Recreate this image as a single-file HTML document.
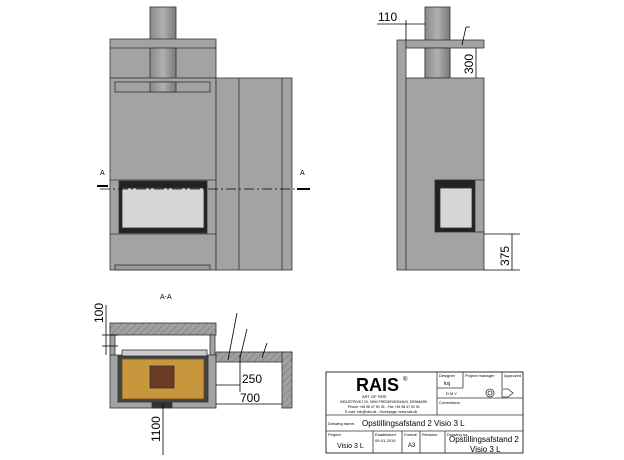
<!DOCTYPE html>
<html><head><style>body{margin:0;background:#fff}svg{display:block}text{font-family:"Liberation Sans",sans-serif}</style></head>
<body>
<svg width="624" height="460" viewBox="0 0 624 460" xmlns="http://www.w3.org/2000/svg">
<defs>
<linearGradient id="cy" x1="0" x2="1"><stop offset="0" stop-color="#8a8a8a"/><stop offset="0.5" stop-color="#b0b0b0"/><stop offset="1" stop-color="#7a7a7a"/></linearGradient>
<pattern id="h" width="5" height="5" patternUnits="userSpaceOnUse" patternTransform="rotate(45)"><rect width="5" height="5" fill="#a0a0a0"/><line x1="0" y1="0" x2="0" y2="5" stroke="#666" stroke-width="0.8"/></pattern>
</defs>
<g stroke="#333" stroke-width="0.8">
<!-- front view -->
<rect x="150" y="7" width="26" height="33" fill="url(#cy)"/>
<rect x="110" y="39" width="106" height="39" fill="#a3a3a3"/>
<line x1="110" y1="48" x2="216" y2="48"/>
<rect x="150" y="48" width="26" height="44" fill="url(#cy)"/>
<rect x="110" y="78" width="106" height="192" fill="#a3a3a3"/>
<rect x="115" y="82" width="95" height="10" fill="none"/>
<rect x="150" y="82" width="26" height="10" fill="url(#cy)"/>
<rect x="216" y="78" width="76" height="192" fill="#a3a3a3"/>
<line x1="239" y1="78" x2="239" y2="270"/><line x1="282" y1="78" x2="282" y2="270"/>
<line x1="110" y1="180" x2="216" y2="180"/><line x1="110" y1="234" x2="216" y2="234"/>
<rect x="119" y="181" width="88" height="52" fill="#222"/>
<rect x="122" y="188" width="82" height="40" fill="#d6d6d6"/>
<rect x="115" y="265" width="95" height="5" fill="#999"/>
<line x1="100" y1="189" x2="310" y2="189" stroke="#000" stroke-dasharray="10,3,2,3"/>
<line x1="97" y1="186" x2="108" y2="186" stroke="#000" stroke-width="2"/><line x1="297" y1="189" x2="310" y2="189" stroke="#000" stroke-width="2"/>
<!-- side view -->
<rect x="425" y="7" width="25" height="71" fill="url(#cy)"/>
<rect x="397" y="40" width="9" height="230" fill="#a3a3a3"/>
<rect x="406" y="40" width="78" height="8" fill="#a3a3a3"/>
<rect x="425" y="48" width="25" height="30" fill="url(#cy)"/>
<rect x="406" y="78" width="78" height="192" fill="#a3a3a3"/>
<rect x="435" y="180" width="40" height="52" fill="#222"/>
<rect x="440" y="188" width="32" height="40" fill="#d6d6d6"/>
<line x1="475" y1="180" x2="484" y2="180"/><line x1="475" y1="232" x2="484" y2="232"/>
<!-- dims side -->
<line x1="377" y1="24" x2="425" y2="24" stroke="#000"/>
<line x1="406" y1="20" x2="406" y2="40" stroke="#000"/>
<line x1="476" y1="48" x2="476" y2="78" stroke="#000"/>
<line x1="484" y1="234" x2="520" y2="234" stroke="#000"/><line x1="484" y1="270" x2="520" y2="270" stroke="#000"/>
<line x1="512" y1="234" x2="512" y2="270" stroke="#000"/>
<line x1="462" y1="45" x2="466" y2="27" stroke="#000"/><line x1="466" y1="27" x2="470" y2="27" stroke="#000"/>
<!-- section -->
<rect x="110" y="323" width="106" height="12" fill="url(#h)"/>
<rect x="110" y="335" width="5" height="20" fill="#a3a3a3"/><rect x="210" y="335" width="5" height="20" fill="#a3a3a3"/>
<rect x="110" y="355" width="106" height="53" fill="#a3a3a3"/>
<rect x="118" y="356" width="90" height="46" fill="#444"/>
<rect x="122" y="359" width="82" height="40" fill="#c8963c" stroke="#6a4a1a"/>
<rect x="150" y="366" width="24" height="22" fill="#6b3a22"/>
<rect x="122" y="350" width="85" height="6" fill="#ccc"/>
<rect x="152" y="402" width="20" height="6" fill="#333"/>
<rect x="216" y="352" width="76" height="10" fill="url(#h)"/>
<rect x="282" y="352" width="10" height="56" fill="url(#h)"/>
<line x1="216" y1="385" x2="240" y2="385" stroke="#000"/><line x1="216" y1="404" x2="282" y2="404" stroke="#000"/>
<line x1="240" y1="355" x2="240" y2="392" stroke="#000"/>
<line x1="228" y1="360" x2="237" y2="313" stroke="#000"/><line x1="240" y1="358" x2="247" y2="329" stroke="#000"/><line x1="262" y1="358" x2="267" y2="343" stroke="#000"/>
<line x1="102" y1="335" x2="118" y2="335" stroke="#000"/><line x1="102" y1="346" x2="118" y2="346" stroke="#000"/>
<line x1="106" y1="305" x2="106" y2="355" stroke="#000"/>
<line x1="163" y1="404" x2="163" y2="455" stroke="#000"/>
<!-- title block -->
<rect x="326" y="372" width="197" height="81" fill="#fff" stroke="#000"/>
<line x1="326" y1="415" x2="523" y2="415"/><line x1="326" y1="431" x2="523" y2="431"/>
<line x1="437" y1="372" x2="437" y2="415"/><line x1="437" y1="398" x2="523" y2="398"/>
<line x1="437" y1="388" x2="463" y2="388"/><line x1="463" y1="372" x2="463" y2="388"/><line x1="502" y1="372" x2="502" y2="388"/>
<line x1="373" y1="431" x2="373" y2="453"/><line x1="402" y1="431" x2="402" y2="453"/><line x1="420" y1="431" x2="420" y2="453"/><line x1="445" y1="431" x2="445" y2="453"/>
<circle cx="490" cy="393" r="4" fill="none"/><circle cx="490" cy="393" r="2" fill="none"/>
<path d="M502 389 L508 389 L513 393 L508 397 L502 397 Z" fill="none"/>
</g>
<g fill="#000">
<text x="100" y="175" font-size="7">A</text><text x="300" y="175" font-size="7">A</text>
<text x="160" y="299" font-size="7">A-A</text>
<text x="378" y="21" font-size="12">110</text>
<text x="473" y="74" font-size="12" transform="rotate(-90 473 74)">300</text>
<text x="509" y="266" font-size="12" transform="rotate(-90 509 266)">375</text>
<text x="242" y="383" font-size="12">250</text>
<text x="240" y="402" font-size="12">700</text>
<text x="103" y="323" font-size="12" transform="rotate(-90 103 323)">100</text>
<text x="160" y="442" font-size="12" transform="rotate(-90 160 442)">1100</text>
<text x="356" y="391" font-size="18" font-weight="bold">RAIS</text>
<text x="403" y="381" font-size="6">®</text>
<text x="362" y="398" font-size="4">ART OF FIRE</text>
<text x="340" y="403" font-size="3.5">INDUSTRIVEJ 20, 9900 FREDERIKSHAVN, DENMARK</text>
<text x="348" y="408" font-size="3.5">Phone +45 98 47 90 33 - Fax +45 98 47 92 91</text>
<text x="345" y="413" font-size="3.5">E-mail: info@rais.dk - Homepage: www.rais.dk</text>
<text x="439" y="377" font-size="4">Designer</text><text x="444" y="385" font-size="5">ksj</text>
<text x="465" y="377" font-size="4">Project manager</text><text x="504" y="377" font-size="4">Approved</text>
<text x="446" y="395" font-size="4">D  M  Y</text>
<text x="439" y="404" font-size="4">Corrections:</text>
<text x="328" y="425" font-size="4">Drawing name:</text>
<text x="362" y="426" font-size="8">Opstillingsafstand 2 Visio 3 L</text>
<text x="328" y="436" font-size="4">Project:</text><text x="337" y="448" font-size="7">Visio 3 L</text>
<text x="375" y="436" font-size="4">Established</text><text x="375" y="442" font-size="4">09-01-2019</text>
<text x="404" y="436" font-size="4">Format</text><text x="408" y="447" font-size="6">A3</text>
<text x="422" y="436" font-size="4">Revision</text>
<text x="447" y="436" font-size="4">Drawing no.</text>
<text x="449" y="442" font-size="8">Opstillingsafstand 2</text>
<text x="470" y="452" font-size="8">Visio 3 L</text>
</g>
</svg>
</body></html>
